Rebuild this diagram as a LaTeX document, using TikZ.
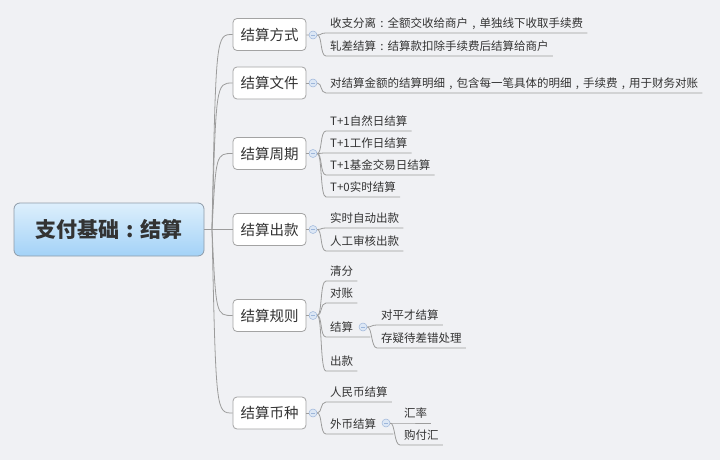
\documentclass[tikz,border=0pt]{standalone}
\usepackage{fontspec}
\setmainfont{Noto Sans CJK SC}
\usetikzlibrary{calc}
\definecolor{bgc}{HTML}{F0F1F4}
\definecolor{txt}{HTML}{333333}
\definecolor{lnc}{HTML}{9C9C9C}
\definecolor{topbd}{HTML}{A3A3A3}
\definecolor{rootbd}{HTML}{8E9BA8}
\definecolor{rtop}{HTML}{DDEFFC}
\definecolor{rbot}{HTML}{A3D2F7}
\definecolor{mkbd}{HTML}{9DB6DA}
\definecolor{mkfill}{HTML}{DCE7F5}
% centred full-width punctuation
\newcommand{\zcolon}{\makebox[1em][c]{:}}
\newcommand{\zcomma}{\makebox[1em][c]{,}}

\begin{document}
\begin{tikzpicture}[x=1pt,y=-1pt,
  every node/.style={text=txt},
  root/.style={draw=rootbd,line width=0.8pt,rounded corners=6pt,top color=rtop,bottom color=rbot,minimum width=190pt,minimum height=53pt,font=\fontsize{21}{24}\selectfont\bfseries},
  topic/.style={draw=topbd,line width=0.8pt,fill=white,rounded corners=4pt,minimum width=73pt,minimum height=32pt,font=\fontsize{14.5}{17}\selectfont},
  leaf/.style={anchor=south west,inner xsep=4pt,inner ysep=3.5pt,text height=9pt,text depth=2pt,font=\fontsize{11.5}{13}\selectfont},
  mk/.style={circle,draw=mkbd,fill=mkfill,line width=0.5pt,minimum size=8pt,inner sep=0pt,
    path picture={\draw[mkbd,line width=0.6pt] ([xshift=-2pt]path picture bounding box.center) -- ([xshift=2pt]path picture bounding box.center);}},
  ln/.style={draw=lnc,line width=0.8pt}]
\fill[bgc] (0,0) rectangle (720,460);
% centre topic
\node[root] (root) at (109,229.5) {支付基础\zcolon 结算};
\coordinate (hub) at (212,229.5);
\coordinate (hubc) at (216,229.5);
% first level
\node[topic] (n1) at (269.5,34.5) {结算方式};
\node[topic] (n2) at (269.5,83) {结算文件};
\node[topic] (n3) at (269.5,153.5) {结算周期};
\node[topic] (n4) at (269.5,229.5) {结算出款};
\node[topic] (n5) at (269.5,315.5) {结算规则};
\node[topic] (n6) at (269.5,413) {结算币种};
\foreach \n in {n1,n2,n3,n4,n5,n6} \draw[ln] (root.east) -- (hub) .. controls (hubc |- \n.west) .. (\n.west);
% collapse markers
\node[mk] (m1) at (313,35) {};
\node[mk] (m2) at (313,83) {};
\node[mk] (m3) at (313,153.5) {};
\node[mk] (m4) at (313,229.5) {};
\node[mk] (m5) at (313,315.5) {};
\node[mk] (m6) at (313,413) {};
\foreach \n in {1,...,6} \draw[ln] (n\n) -- (m\n);
% second level
\node[leaf] (c11) at (326,33) {收支分离\zcolon 全额交收给商户\zcomma 单独线下收取手续费};
\node[leaf] (c12) at (326,56) {轧差结算\zcolon 结算款扣除手续费后结算给商户};
\node[leaf] (c21) at (326,93) {对结算金额的结算明细\zcomma 包含每一笔具体的明细\zcomma 手续费\zcomma 用于财务对账};
\node[leaf] (c31) at (326,131) {T+1自然日结算};
\node[leaf] (c32) at (326,153) {T+1工作日结算};
\node[leaf] (c33) at (326,175) {T+1基金交易日结算};
\node[leaf] (c34) at (326,197) {T+0实时结算};
\node[leaf] (c41) at (326,228) {实时自动出款};
\node[leaf] (c42) at (326,251) {人工审核出款};
\node[leaf] (c51) at (326,281) {清分};
\node[leaf] (c52) at (326,303) {对账};
\node[leaf] (c53) at (326,337) {结算};
\node[leaf] (c54) at (326,371) {出款};
\node[leaf] (c61) at (326,402) {人民币结算};
\node[leaf] (c62) at (326,434) {外币结算};
\foreach \m/\c in {m1/c11,m1/c12,m2/c21,m3/c31,m3/c32,m3/c33,m3/c34,m4/c41,m4/c42,m5/c51,m5/c52,m5/c54,m6/c61}
  \draw[ln] (\m.east) .. controls +(5pt,0) and +(-6pt,0) .. (\c.south west) -- (\c.south east);
% third level
\node[mk] (m53) at (363,327) {};
\node[mk] (m62) at (386,423) {};
\draw[ln] (m5.east) .. controls +(5pt,0) and +(-6pt,0) .. (c53.south west) -- ([xshift=3pt]m53.east |- c53.south);
\draw[ln] (m6.east) .. controls +(5pt,0) and +(-6pt,0) .. (c62.south west) -- ([xshift=3pt]m62.east |- c62.south);
\node[leaf] (d1) at (377,325) {对平才结算};
\node[leaf] (d2) at (377,348) {存疑待差错处理};
\node[leaf] (e1) at (400,423) {汇率};
\node[leaf] (e2) at (400,445) {购付汇};
\foreach \m/\c in {m53/d1,m53/d2,m62/e1,m62/e2}
  \draw[ln] (\m.east) .. controls +(5pt,0) and +(-6pt,0) .. (\c.south west) -- (\c.south east);
\end{tikzpicture}
\end{document}
